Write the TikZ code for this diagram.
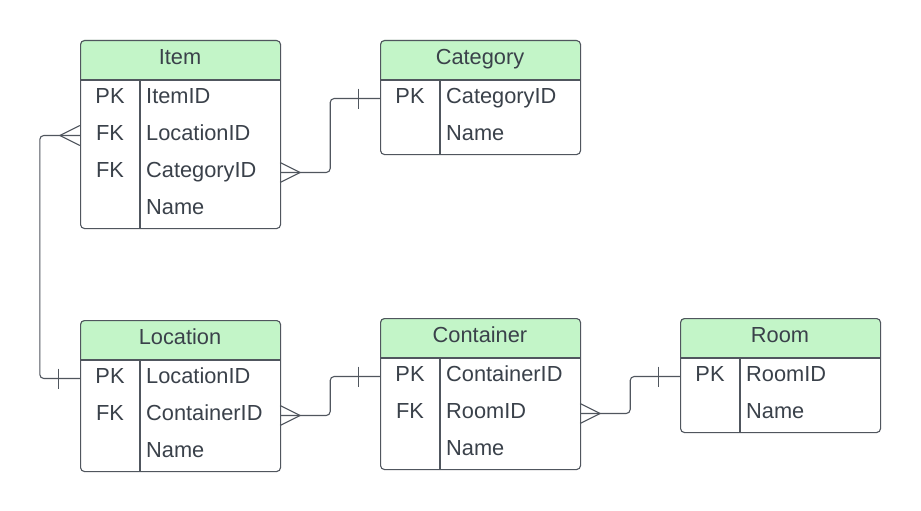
\documentclass[tikz,border=0pt]{standalone}
\usepackage{fontspec}
\setmainfont{Liberation Sans}
\definecolor{hdrgreen}{HTML}{C3F5C8}
\definecolor{lncol}{HTML}{50565E}
\definecolor{txtcol}{HTML}{3A414A}
\tikzset{
  ln/.style={draw=lncol, line width=1.1pt},
  tbl/.style={draw=lncol, line width=1.1pt, rounded corners=4pt, minimum width=200pt, inner sep=0pt},
  rowbox/.style={minimum width=200pt, minimum height=37pt, inner sep=0pt},
  ttl/.style={anchor=base, inner sep=0pt, text=txtcol, font=\fontsize{21.8}{24}\selectfont},
  keytxt/.style={anchor=base, inner sep=0pt, text=txtcol, font=\fontsize{21.8}{24}\selectfont},
  fldtxt/.style={anchor=base west, inner sep=0pt, text=txtcol, font=\fontsize{21.8}{24}\selectfont},
}
\newcommand\ertable[5]{% id, left, top, nrows, title
  \begin{scope}
    \clip (#2,#3) rectangle ++(200,40);
    \fill[hdrgreen, rounded corners=4pt] (#2,#3) rectangle ++(200,80);
  \end{scope}
  \node[tbl, minimum height={40+37*#4}, anchor=north west] (#1) at (#2,#3) {};
  \draw[ln] (#2,#3+40) -- ++(200,0);
  \draw[ln] (#2+60,#3+40) -- (#2+60,#3+40+37*#4);
  \node[ttl] (#1-t) at (#2+100,#3+24) {#5};
}
\newcommand\erow[6]{% id, left, top, index, key, field
  \node[rowbox] (#1-r#4) at (#2+100,#3+40+37*#4-18.5) {};
  \node[keytxt] (#1-k#4) at (#2+30,#3+40+37*#4-13.6) {#5};
  \node[fldtxt] (#1-f#4) at (#2+66,#3+40+37*#4-13.6) {#6};
}
\newcommand\crowfoot[3]{% node, direction sign (+1 right, -1 left)
  \draw[ln] ([yshift=10pt]#1) -- ([xshift=#2*20pt]#1) -- ([yshift=-10pt]#1);
}
\newcommand\onebar[2]{% node anchor, sign
  \draw[ln] ([xshift=#2*21pt,yshift=10pt]#1) -- ([xshift=#2*21pt,yshift=-10pt]#1);
}
\begin{document}
\begin{tikzpicture}[x=1pt,y=-1pt]
\useasboundingbox (0,0) rectangle (921,511);
\fill[white] (0,0) rectangle (921,511);

% Item
\ertable{item}{80}{40}{4}{Item}
\erow{item}{80}{40}{1}{PK}{ItemID}
\erow{item}{80}{40}{2}{FK}{LocationID}
\erow{item}{80}{40}{3}{FK}{CategoryID}
\erow{item}{80}{40}{4}{}{Name}

% Category
\ertable{category}{380}{40}{2}{Category}
\erow{category}{380}{40}{1}{PK}{CategoryID}
\erow{category}{380}{40}{2}{}{Name}

% Location
\ertable{location}{80}{320}{3}{Location}
\erow{location}{80}{320}{1}{PK}{LocationID}
\erow{location}{80}{320}{2}{FK}{ContainerID}
\erow{location}{80}{320}{3}{}{Name}

% Container
\ertable{container}{380}{318}{3}{Container}
\erow{container}{380}{318}{1}{PK}{ContainerID}
\erow{container}{380}{318}{2}{FK}{RoomID}
\erow{container}{380}{318}{3}{}{Name}

% Room
\ertable{room}{680}{318}{2}{Room}
\erow{room}{680}{318}{1}{PK}{RoomID}
\erow{room}{680}{318}{2}{}{Name}

% Connectors
\draw[ln, rounded corners=4pt] (item-r2.west) -- ++(-40,0) |- (location-r1.west);
\crowfoot{item-r2.west}{-1}{}
\onebar{location-r1.west}{-1}

\draw[ln, rounded corners=4pt] (item-r3.east) -- ++(50,0) |- (category-r1.west);
\crowfoot{item-r3.east}{1}{}
\onebar{category-r1.west}{-1}

\draw[ln, rounded corners=4pt] (location-r2.east) -- ++(50,0) |- (container-r1.west);
\crowfoot{location-r2.east}{1}{}
\onebar{container-r1.west}{-1}

\draw[ln, rounded corners=4pt] (container-r2.east) -- ++(50,0) |- (room-r1.west);
\crowfoot{container-r2.east}{1}{}
\onebar{room-r1.west}{-1}
\end{tikzpicture}
\end{document}
